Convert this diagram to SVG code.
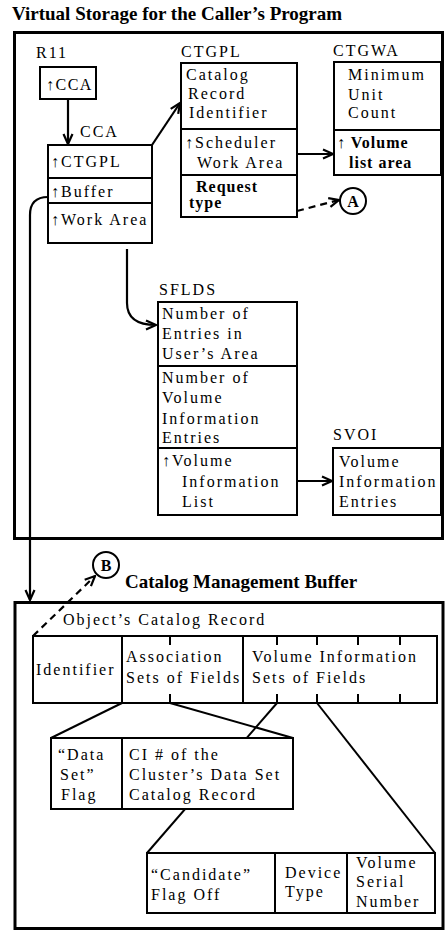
<svg xmlns="http://www.w3.org/2000/svg" width="445" height="934" viewBox="0 0 445 934">
<style>
.t{font-family:"Liberation Serif","Times New Roman",serif;font-size:16px;letter-spacing:2px;fill:#000}
.b{font-weight:bold;letter-spacing:1px}
.h{font-family:"Liberation Serif","Times New Roman",serif;font-size:19px;font-weight:bold;fill:#000}
.box{fill:#fff;stroke:#000;stroke-width:2}
.frame{fill:none;stroke:#000;stroke-width:3}
.ln{fill:none;stroke:#000;stroke-width:2}
.con{fill:none;stroke:#000;stroke-width:2.2}
.dash{stroke-dasharray:7 5}
.circ{fill:#fff;stroke:#000;stroke-width:2}
.c{font-family:"Liberation Serif","Times New Roman",serif;font-size:16px;font-weight:bold;text-anchor:middle}
</style>
<defs>
<marker id="ah" viewBox="0 0 12 12" refX="11" refY="6" markerWidth="12" markerHeight="12" markerUnits="userSpaceOnUse" orient="auto">
<path d="M1,1.5 L11,6 L1,10.5" fill="none" stroke="#000" stroke-width="2.2"/>
</marker>
</defs>
<rect width="445" height="934" fill="#fff"/>

<text class="h" x="12" y="20">Virtual Storage for the Caller’s Program</text>
<rect id="frame-top" class="frame" x="14.5" y="32.5" width="428" height="506"/>

<g id="r11">
<text class="t" x="36" y="58">R11</text>
<rect class="box" x="40" y="67" width="56" height="32"/>
<text class="t" x="46" y="90" style="letter-spacing:1.5px">↑CCA</text>
</g>

<g id="cca">
<text class="t" x="80" y="137">CCA</text>
<rect class="box" x="48" y="145" width="104" height="98"/>
<line class="ln" x1="48" y1="178" x2="152" y2="178"/>
<line class="ln" x1="48" y1="203" x2="152" y2="203"/>
<text class="t" x="51" y="167">↑CTGPL</text>
<text class="t" x="51" y="197">↑Buffer</text>
<text class="t" x="51" y="225">↑Work Area</text>
</g>

<g id="ctgpl">
<text class="t" x="181" y="57">CTGPL</text>
<rect class="box" x="181" y="63" width="116" height="154"/>
<line class="ln" x1="181" y1="129" x2="297" y2="129"/>
<line class="ln" x1="181" y1="175" x2="297" y2="175"/>
<text class="t" x="186" y="80">Catalog</text>
<text class="t" x="188" y="99">Record</text>
<text class="t" x="189" y="118">Identifier</text>
<text class="t" x="185" y="148">↑Scheduler</text>
<text class="t" x="197" y="168">Work Area</text>
<text class="t b" x="196" y="192">Request</text>
<text class="t b" x="189" y="208">type</text>
</g>

<g id="ctgwa">
<text class="t" x="333" y="56">CTGWA</text>
<rect class="box" x="334" y="62" width="107" height="113"/>
<line class="ln" x1="334" y1="130" x2="441" y2="130"/>
<text class="t" x="348" y="80">Minimum</text>
<text class="t" x="348" y="100">Unit</text>
<text class="t" x="348" y="118">Count</text>
<text class="t b" x="337" y="148">↑ Volume</text>
<text class="t b" x="349" y="168">list area</text>
</g>

<g id="circle-a">
<circle class="circ" cx="353" cy="201" r="13"/>
<text class="c" x="353" y="207">A</text>
</g>

<g id="sflds">
<text class="t" x="159" y="295">SFLDS</text>
<rect class="box" x="158" y="302" width="139" height="213"/>
<line class="ln" x1="158" y1="366" x2="297" y2="366"/>
<line class="ln" x1="158" y1="448" x2="297" y2="448"/>
<text class="t" x="162" y="319">Number of</text>
<text class="t" x="162" y="339">Entries in</text>
<text class="t" x="162" y="359">User’s Area</text>
<text class="t" x="162" y="383">Number of</text>
<text class="t" x="162" y="403">Volume</text>
<text class="t" x="162" y="424">Information</text>
<text class="t" x="162" y="443">Entries</text>
<text class="t" x="162" y="466">↑Volume</text>
<text class="t" x="182" y="487">Information</text>
<text class="t" x="182" y="507">List</text>
</g>

<g id="svoi">
<text class="t" x="333" y="440">SVOI</text>
<rect class="box" x="333" y="448" width="108" height="67"/>
<text class="t" x="339" y="467">Volume</text>
<text class="t" x="339" y="487">Information</text>
<text class="t" x="339" y="507">Entries</text>
</g>

<g id="circle-b">
<circle class="circ" cx="106" cy="565" r="13"/>
<text class="c" x="106" y="571">B</text>
</g>
<text class="h" x="125" y="588">Catalog Management Buffer</text>
<rect id="frame-bottom" class="frame" x="15" y="602.5" width="428" height="326"/>

<g id="record">
<text class="t" x="63" y="625">Object’s Catalog Record</text>
<rect class="box" x="33" y="636" width="404" height="67"/>
<line class="ln" x1="122" y1="636" x2="122" y2="703"/>
<line class="ln" x1="243" y1="636" x2="243" y2="703"/>
<path class="ln" d="M170,636v9M170,703v-9M277,636v9M277,703v-9M317,636v9M317,703v-9M358,636v9M358,703v-9M400,636v9M400,703v-9"/>
<text class="t" x="36" y="675">Identifier</text>
<text class="t" x="126" y="662">Association</text>
<text class="t" x="126" y="683">Sets of Fields</text>
<text class="t" x="252" y="662">Volume Information</text>
<text class="t" x="252" y="683">Sets of Fields</text>
</g>

<g id="expansion-lines">
<line class="ln" x1="277" y1="703" x2="147" y2="853"/>
<line class="ln" x1="317" y1="703" x2="435" y2="853"/>
<line class="ln" x1="122" y1="703" x2="51" y2="738"/>
<line class="ln" x1="170" y1="703" x2="293" y2="738"/>
</g>

<g id="dataset">
<rect class="box" x="51" y="738" width="242" height="71"/>
<line class="ln" x1="122" y1="738" x2="122" y2="809"/>
<text class="t" x="58" y="760">“Data</text>
<text class="t" x="60" y="780">Set”</text>
<text class="t" x="61" y="800">Flag</text>
<text class="t" x="129" y="760">CI # of the</text>
<text class="t" x="129" y="780">Cluster’s Data Set</text>
<text class="t" x="129" y="800">Catalog Record</text>
</g>

<g id="candidate">
<rect class="box" x="147" y="853" width="288" height="60"/>
<line class="ln" x1="275" y1="853" x2="275" y2="913"/>
<line class="ln" x1="347" y1="853" x2="347" y2="913"/>
<text class="t" x="151" y="880">“Candidate”</text>
<text class="t" x="151" y="900">Flag Off</text>
<text class="t" x="285" y="878">Device</text>
<text class="t" x="285" y="897">Type</text>
<text class="t" x="356" y="868">Volume</text>
<text class="t" x="356" y="887">Serial</text>
<text class="t" x="356" y="907">Number</text>
</g>

<g id="connectors">
<line class="con" x1="68" y1="99" x2="68" y2="144" marker-end="url(#ah)"/>
<line class="con" x1="152" y1="145" x2="180" y2="103" marker-end="url(#ah)"/>
<line class="con" x1="297" y1="154" x2="333" y2="154" marker-end="url(#ah)"/>
<line class="con dash" x1="297" y1="211" x2="339" y2="200" marker-end="url(#ah)"/>
<path class="con" d="M127,249 L127,303 Q127,325 156,325" marker-end="url(#ah)"/>
<line class="con" x1="297" y1="481" x2="332" y2="481" marker-end="url(#ah)"/>
<path class="con" d="M48,197 Q30,197 30,215 L30,600" marker-end="url(#ah)"/>
<line class="con dash" x1="33" y1="636" x2="95" y2="576" marker-end="url(#ah)"/>
</g>
</svg>
